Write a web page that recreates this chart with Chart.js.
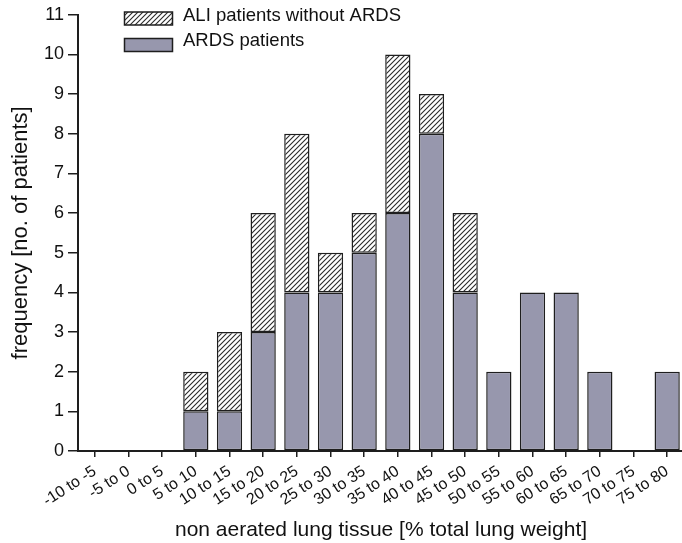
<!DOCTYPE html>
<html>
<head>
<meta charset="utf-8">
<script src="https://cdn.jsdelivr.net/npm/chart.js@4/dist/chart.umd.min.js"></script>
<style>
  html, body { margin: 0; padding: 0; background: #fff; overflow: hidden; }
  canvas { display: block; }
</style>
</head>
<body>
<canvas id="histChart" width="685" height="543"></canvas>
<script>
const bins = ['-10 to -5', '-5 to 0', '0 to 5', '5 to 10', '10 to 15', '15 to 20', '20 to 25', '25 to 30', '30 to 35',
  '35 to 40', '40 to 45', '45 to 50', '50 to 55', '55 to 60', '60 to 65', '65 to 70', '70 to 75', '75 to 80'];
const ardsCounts = [0, 0, 0, 1, 1, 3, 4, 4, 5, 6, 8, 4, 2, 4, 4, 2, 0, 2];
const aliCounts  = [0, 0, 0, 1, 2, 3, 4, 1, 1, 4, 1, 2, 0, 0, 0, 0, 0, 0];
const yTicks = [0, 1, 2, 3, 4, 5, 6, 7, 8, 9, 10, 11];

const ink = '#1e1e1e';
const ardsFill = '#9797ad';
const face = '"Liberation Sans", Arial, sans-serif';

// diagonal hatch for the ALI segment
function hatch() {
    const s = 5;
    const c = document.createElement('canvas');
    c.width = s; c.height = s;
    const g = c.getContext('2d');
    g.fillStyle = '#fff';
    g.fillRect(0, 0, s, s);
    g.strokeStyle = '#2a2a2a';
    g.lineWidth = 1.1;
    g.beginPath();
    g.moveTo(0, s); g.lineTo(s, 0);
    g.moveTo(-1, 1); g.lineTo(1, -1);
    g.moveTo(s - 1, s + 1); g.lineTo(s + 1, s - 1);
    g.stroke();
    return g.createPattern(c, 'repeat');
}
const aliFill = hatch();

const legendBoxes = {
    id: 'legendBoxes',
    afterDraw(chart) {
        const ctx = chart.ctx;
        const items = [
            { text: 'ALI patients without ARDS', fill: aliFill, y: 12, base: 21 },
            { text: 'ARDS patients', fill: ardsFill, y: 38.5, base: 46 }
        ];
        ctx.save();
        items.forEach(it => {
            ctx.fillStyle = it.fill;
            ctx.fillRect(124.5, it.y, 48, 13);
            ctx.strokeStyle = ink;
            ctx.lineWidth = 1.5;
            ctx.strokeRect(124.5, it.y, 48, 13);
            ctx.fillStyle = '#111';
            ctx.font = '18.5px ' + face;
            ctx.textBaseline = 'alphabetic';
            ctx.fillText(it.text, 183, it.base);
        });
        ctx.restore();
    }
};

new Chart(document.getElementById('histChart'), {
    type: 'bar',
    data: {
        labels: bins,
        datasets: [
            { label: 'ARDS patients', data: ardsCounts, backgroundColor: ardsFill,
              borderColor: ink, borderWidth: 1.5, borderSkipped: false },
            { label: 'ALI patients without ARDS', data: aliCounts, backgroundColor: aliFill,
              borderColor: ink, borderWidth: 1.5, borderSkipped: false }
        ]
    },
    options: {
        responsive: false,
        animation: false,
        layout: { padding: { top: 14, right: 1, left: 0, bottom: 0 } },
        plugins: { legend: { display: false }, tooltip: { enabled: false } },
        datasets: { bar: { barPercentage: 0.75, categoryPercentage: 1 } },
        scales: {
            x: {
                stacked: true,
                afterFit: s => { s.height = 92; },
                grid: { offset: false, drawOnChartArea: false, color: ink, tickLength: 6, lineWidth: 1.5 },
                border: { color: ink, width: 2 },
                ticks: { color: '#111', autoSkip: false, maxRotation: 33, minRotation: 33, padding: 5,
                         font: { size: 16, family: face } },
                title: { display: true, text: 'non aerated lung tissue [% total lung weight]', color: '#111',
                         padding: { top: 0, bottom: 0 },
                         font: { size: 21, family: face } }
            },
            y: {
                stacked: true,
                min: 0, max: 11,
                afterFit: s => { s.width = 78; },
                afterBuildTicks: s => { s.ticks = yTicks.map(v => ({ value: v })); },
                grid: { drawOnChartArea: false, color: ink, tickLength: 10, lineWidth: 1.5 },
                border: { color: ink, width: 2 },
                ticks: { color: '#111', padding: 4,
                         font: { size: 18, family: face } },
                title: { display: true, text: 'frequency [no. of patients]', color: '#111',
                         padding: { top: 8, bottom: 0 },
                         font: { size: 22, family: face } }
            }
        }
    },
    plugins: [legendBoxes]
});
</script>
</body>
</html>
